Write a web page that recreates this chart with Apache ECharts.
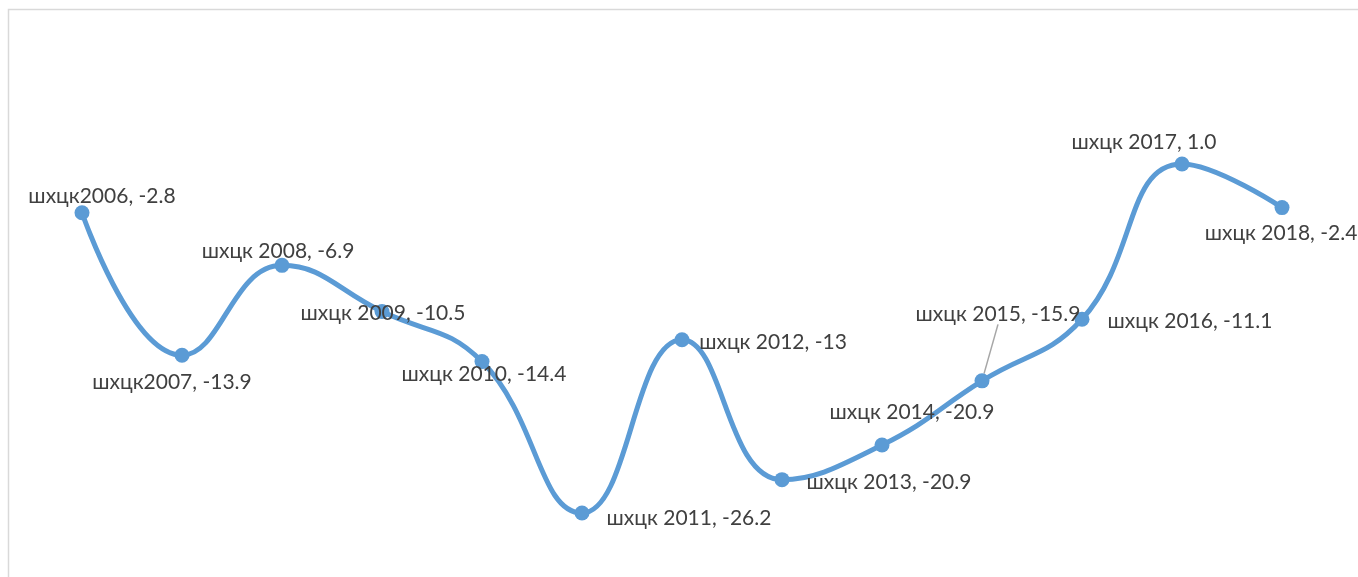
<!DOCTYPE html>
<html>
<head>
<meta charset="utf-8">
<script src="https://cdn.jsdelivr.net/npm/echarts@6/dist/echarts.min.js"></script>
<style>
  html, body { margin: 0; padding: 0; background: #fff; }
  #chart { width: 1358px; height: 577px; }
</style>
</head>
<body>
<div id="chart"></div>
<script>
const years = ["шхцк2006", "шхцк2007", "шхцк 2008", "шхцк 2009", "шхцк 2010", "шхцк 2011", "шхцк 2012",
  "шхцк 2013", "шхцк 2014", "шхцк 2015", "шхцк 2016", "шхцк 2017", "шхцк 2018"];
const values = [-2.8, -13.9, -6.9, -10.5, -14.4, -26.2, -12.7, -23.6, -20.9, -15.9, -11.1, 1.0, -2.4];
const labelTexts = ["-2.8", "-13.9", "-6.9", "-10.5", "-14.4", "-26.2", "-13", "-20.9", "-20.9", "-15.9", "-11.1", "1.0", "-2.4"];

// label centre offsets from each point
const labelOffsets = [[20, -17], [-10, 27], [-4, -14], [1, 2], [2, 13], [107, 5], [91, 2],
  [107, 3], [30, -33], [16, -67], [108, 2], [-38, -22], [-1, 26]];

const chart = echarts.init(document.getElementById("chart"));

chart.setOption({
  animation: false,
  grid: { left: 32, right: 26, top: 48.5, bottom: 15.2 },
  xAxis: { type: "category", data: years, show: false },
  yAxis: { type: "value", min: -30, max: 10, show: false },
  graphic: [
    {
      type: "rect",
      shape: { x: 8.5, y: 9.5, width: 1400, height: 600 },
      style: { fill: "none", stroke: "#d9d9d9", lineWidth: 1.5 },
      silent: true,
    },
  ],
  series: [
    {
      type: "line",
      smooth: 0.45,
      symbol: "circle",
      symbolSize: 15,
      lineStyle: { color: "#5b9bd5", width: 5 },
      itemStyle: { color: "#5b9bd5" },
      label: {
        show: true,
        position: "inside",
        fontFamily: "Lato",
        fontSize: 21,
        color: "#404040",
      },
      data: values.map((v, i) => ({
        value: v,
        label: {
          offset: labelOffsets[i],
          formatter: years[i] + ", " + labelTexts[i],
        },
        labelLine: i === 9 ? { show: true, lineStyle: { color: "#a6a6a6", width: 1.5 } } : undefined,
      })),
    },
  ],
});
</script>
</body>
</html>
